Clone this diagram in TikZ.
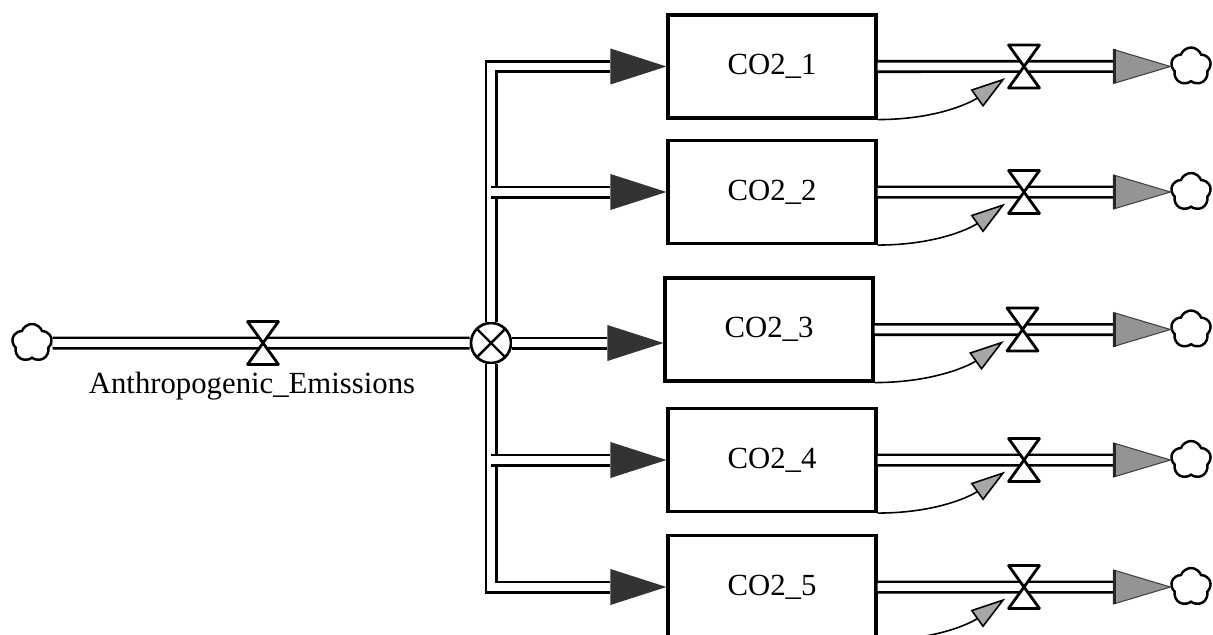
\documentclass[tikz,border=0pt]{standalone}
\usepackage{fontspec}
\setmainfont{Liberation Serif}
\usepackage{tikz}
\usetikzlibrary{arrows.meta,calc,positioning,shapes.symbols}
\tikzset{
  stock/.style={draw, line width=1.8pt, fill=white, minimum width=4.16cm, minimum height=2.06cm, inner sep=0pt, align=center, font=\fontsize{17.5}{20}\selectfont},
  pipe/.style={line width=1.5pt, double=white, double distance=4.4pt},
  valve/.style={draw=none, minimum width=0.68cm, minimum height=0.92cm, inner sep=0pt, path picture={
    \draw[line width=1.6pt, fill=white, line join=round]
      ([xshift=0.9pt,yshift=-0.9pt]path picture bounding box.north west) --
      ([xshift=-0.9pt,yshift=-0.9pt]path picture bounding box.north east) --
      (path picture bounding box.center) --
      ([xshift=-0.9pt,yshift=0.9pt]path picture bounding box.south east) --
      ([xshift=0.9pt,yshift=0.9pt]path picture bounding box.south west) --
      (path picture bounding box.center) -- cycle;
  }},
  junction/.style={circle, draw, line width=1.5pt, fill=white, minimum size=0.8cm, inner sep=0pt, path picture={
    \draw[line width=1.4pt] (path picture bounding box.north west) -- (path picture bounding box.south east)
      (path picture bounding box.north east) -- (path picture bounding box.south west);
  }},
  cloudnode/.style={cloud, cloud puffs=5, cloud puff arc=140, aspect=1, draw, line width=1.4pt, fill=white, minimum width=0.8cm, minimum height=0.76cm, inner sep=0pt},
  inflow/.style={fill=black!80},
  outflow/.style={fill=black!42, draw=black!75, line width=0.6pt},
  outbase/.style={line width=2.2pt, black!85},
  info/.style={-{Triangle[length=0.7cm, width=0.42cm, fill=black!35]}, line width=0.9pt, shorten >=1pt},
  flowname/.style={font=\fontsize{17.5}{20}\selectfont}
}

\begin{document}
\begin{tikzpicture}[x=0.02cm,y=-0.02cm]
  \useasboundingbox (0,0) rectangle (1213,635);

  \node[stock] (stock1) at (772,66.5) {CO2\_1};
  \node[stock] (stock2) at (772,192) {CO2\_2};
  \node[stock] (stock3) at (769,329.5) {CO2\_3};
  \node[stock] (stock4) at (772,460) {CO2\_4};
  \node[stock] (stock5) at (772,587) {CO2\_5};

  \node[cloudnode] (source) at (32,343) {};
  \node[junction] (junction) at (491,343) {};

  \coordinate (in1) at (stock1.west);
  \coordinate (in2) at (stock2.west);
  \coordinate (in3) at (stock3.west |- junction);
  \coordinate (in4) at (stock4.west);
  \coordinate (in5) at (stock5.west);

  \draw[pipe, shorten >=1.12cm] (junction) |- (in1);
  \draw[pipe, shorten >=1.12cm] (junction) |- (in5);
  \foreach \i in {2,4} {\draw[pipe, shorten >=1.12cm] (junction.center |- in\i) -- (in\i);}
  \draw[pipe, shorten >=1.12cm] (junction) -- (in3);
  \draw[pipe] (source) -- (junction);

  \foreach \i in {1,...,5} {\fill[inflow] ($(in\i)+(-56,-18)$) -- ($(in\i)+(-56,18)$) -- (in\i) -- cycle;}

  \node[valve] (emis) at (263,343) {};
  \node[flowname, below=0pt of emis, xshift=-0.22cm] (emislabel) {Anthropogenic\_Emissions};

  \foreach \i in {1,...,5} {
    \node[cloudnode] (sink\i) at (1191,0 |- stock\i.east) {};
    \draw[pipe, shorten >=1.14cm] (stock\i.east) -- (sink\i);
    \filldraw[outflow] ($(sink\i.west)+(-57,-17)$) -- ($(sink\i.west)+(-57,17)$) -- (sink\i.west) -- cycle;
    \draw[outbase] ($(sink\i.west)+(-56,-17)$) -- ($(sink\i.west)+(-56,17)$);
    \node[valve] (rate\i) at ($(stock\i.east)!0.5!(sink\i.west)$) {};
    \draw[info] (stock\i.south east) .. controls +(60,0) and +(-35,25) .. ($(rate\i.west)!0.45!(rate\i.south west)$);
  }
\end{tikzpicture}
\end{document}
